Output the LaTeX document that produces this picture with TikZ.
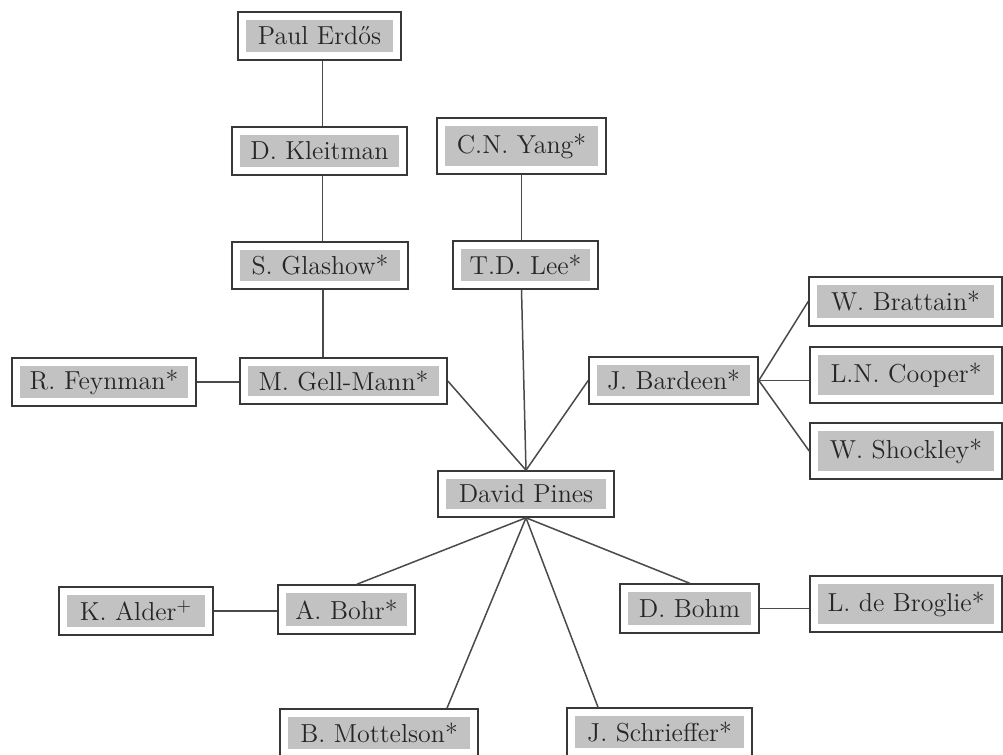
\documentclass[tikz,border=0pt]{standalone}
\usepackage{fontspec}
\usetikzlibrary{calc}
\definecolor{boxfill}{HTML}{C2C2C2}
\definecolor{boxline}{HTML}{383838}
\definecolor{txt}{HTML}{262626}
\definecolor{linecol}{HTML}{4A4A4A}
\begin{document}
\begin{tikzpicture}[x=0.5pt,y=-0.5pt,
  pbox/.style={draw=boxline, line width=0.8pt, fill=white, text=txt, inner sep=0pt,
    font=\fontsize{13}{15}\selectfont,
    path picture={\fill[boxfill] ([shift={(4pt,4pt)}]path picture bounding box.south west) rectangle ([shift={(-4pt,-4pt)}]path picture bounding box.north east);}},
  link/.style={draw=linecol, line width=0.75pt}]
\useasboundingbox (0,0) rectangle (1003,755);
\fill[white] (0,0) rectangle (1003,755);

\node[pbox, minimum width=81.5pt, minimum height=24pt] (erdos) at (319.5,36) {Paul Erdős};
\node[pbox, minimum width=87.5pt, minimum height=24pt] (kleit) at (319.5,151) {D. Kleitman};
\node[pbox, minimum width=84.5pt, minimum height=28pt] (yang) at (521.5,146) {C.N. Yang*};
\node[pbox, minimum width=88pt, minimum height=23.5pt] (glash) at (320,265.5) {S. Glashow*};
\node[pbox, minimum width=72.5pt, minimum height=24pt] (lee) at (525.5,265) {T.D. Lee*};
\node[pbox, minimum width=92pt, minimum height=24pt] (feyn) at (104,382) {R. Feynman*};
\node[pbox, minimum width=103.5pt, minimum height=23pt] (gell) at (343.5,381) {M. Gell-Mann*};
\node[pbox, minimum width=84.5pt, minimum height=23.5pt] (bard) at (673.5,380.5) {J. Bardeen*};
\node[pbox, minimum width=96.5pt, minimum height=24.5pt] (bratt) at (905.5,301.5) {W. Brattain*};
\node[pbox, minimum width=96pt, minimum height=28pt] (coop) at (906,375) {L.N. Cooper*};
\node[pbox, minimum width=96pt, minimum height=28pt] (shock) at (906,451) {W. Shockley*};
\node[pbox, minimum width=88pt, minimum height=23pt] (pines) at (526,494) {David Pines};
\node[pbox, minimum width=77pt, minimum height=24pt] (alder) at (136,611) {K. Alder\textsuperscript{+}};
\node[pbox, minimum width=68.5pt, minimum height=24.5pt] (bohr) at (346.5,609.5) {A. Bohr*};
\node[pbox, minimum width=69.5pt, minimum height=24.5pt] (bohm) at (689.5,608.5) {D. Bohm};
\node[pbox, minimum width=96pt, minimum height=28pt] (brog) at (906,604) {L. de Broglie*};
\node[pbox, minimum width=99pt, minimum height=24pt] (mott) at (379,733) {B. Mottelson*};
\node[pbox, minimum width=92.5pt, minimum height=24pt] (schr) at (659.5,732) {J. Schrieffer*};

\draw[link] ([xshift=1.5pt]erdos.south) -- ([xshift=1.5pt]erdos.south |- kleit.north);
\draw[link] ([xshift=1.5pt]kleit.south) -- ([xshift=1.5pt]kleit.south |- glash.north);
\draw[link] ([xshift=1.5pt]glash.south) -- ([xshift=1.5pt]glash.south |- gell.north);
\draw[link] (yang.south) -- (yang.south |- lee.north);
\draw[link] (lee.south -| yang.south) -- (pines.north);
\draw[link] (feyn.east) -- (feyn.east -| gell.west);
\draw[link] (gell.east) -- (pines.north);
\draw[link] (bard.west) -- (pines.north);
\draw[link] (bard.east) -- (bratt.west);
\draw[link] (bard.east) -- (bard.east -| coop.west);
\draw[link] (bard.east) -- (shock.west);
\draw[link] (pines.south) -- ($(bohr.north)+(10.5,0)$);
\draw[link] (pines.south) -- ($(mott.north)+(68,0)$);
\draw[link] (pines.south) -- ($(schr.north)+(-61.5,0)$);
\draw[link] (pines.south) -- (bohm.north);
\draw[link] (alder.east) -- (alder.east -| bohr.west);
\draw[link] (bohm.east) -- (bohm.east -| brog.west);
\end{tikzpicture}
\end{document}
